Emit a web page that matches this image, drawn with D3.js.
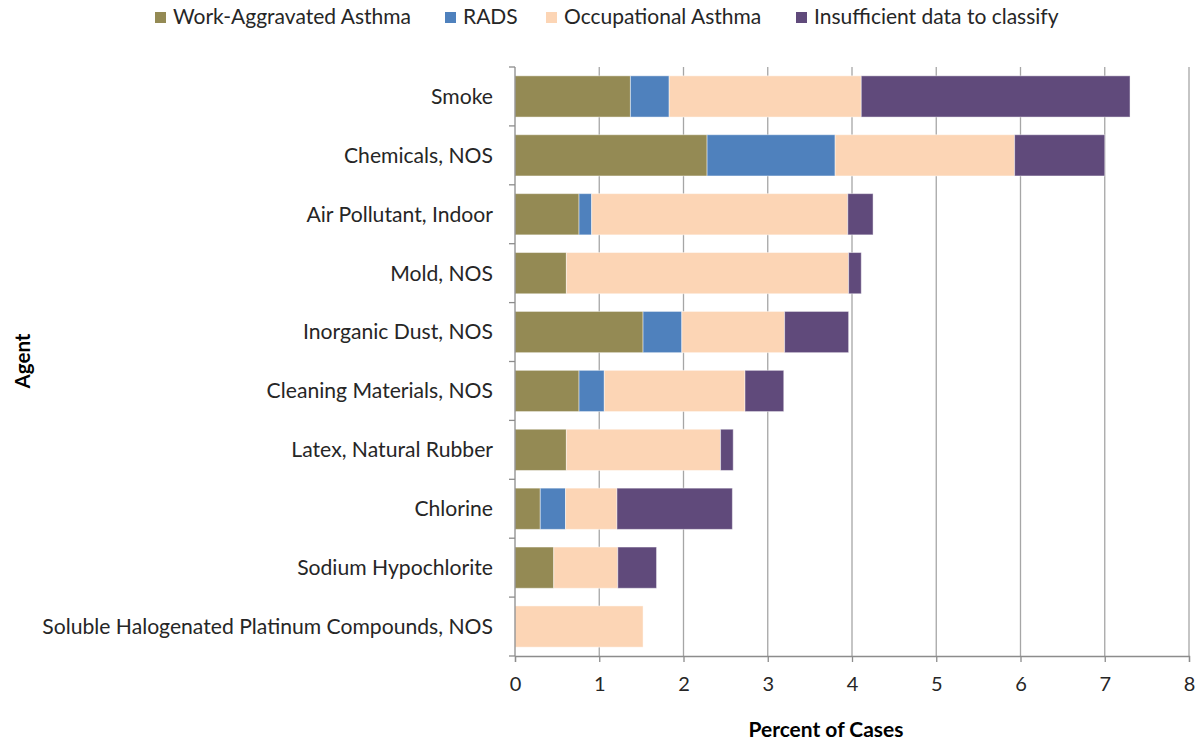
<!DOCTYPE html>
<html><head><meta charset="utf-8">
<script src="https://cdn.jsdelivr.net/npm/d3@7"></script>
<style>body{margin:0;background:#fff;} svg{display:block;}</style>
</head><body>
<svg id="chart" width="1195" height="741"></svg>
<script>
const categories = ["Smoke","Chemicals, NOS","Air Pollutant, Indoor","Mold, NOS","Inorganic Dust, NOS","Cleaning Materials, NOS","Latex, Natural Rubber","Chlorine","Sodium Hypochlorite","Soluble Halogenated Platinum Compounds, NOS"];
const seriesNames = ["Work-Aggravated Asthma","RADS","Occupational Asthma","Insufficient data to classify"];
const workAggravated = [1.37,2.28,0.76,0.61,1.52,0.76,0.61,0.30,0.46,0];
const rads =           [0.46,1.52,0.15,0,   0.46,0.30,0,   0.30,0,   0];
const occupational =   [2.28,2.13,3.04,3.35,1.22,1.67,1.83,0.61,0.76,1.52];
const insufficient =   [3.19,1.07,0.30,0.15,0.76,0.46,0.15,1.37,0.46,0];
const xTicks = [0,1,2,3,4,5,6,7,8];
const colors = ["#948A54","#4F81BD","#FCD5B5","#604A7B"];

const svg = d3.select("#chart");
const m = {left:515, right:1189, top:67, bottom:656};
const FONT = "Lato, 'Open Sans', sans-serif";

const x = d3.scaleLinear().domain([0,8]).range([m.left, m.right]);
const y = d3.scaleBand().domain(categories).range([m.top, m.bottom]).paddingInner(0.3).paddingOuter(0.15);

const rows = categories.map((c,i)=>({cat:c, v:[workAggravated[i],rads[i],occupational[i],insufficient[i]]}));
const stacked = d3.stack().keys([0,1,2,3]).value((d,k)=>d.v[k])(rows);

// gridlines
svg.append("g").selectAll("line").data(xTicks.slice(1)).join("line")
  .attr("x1",d=>x(d)).attr("x2",d=>x(d)).attr("y1",m.top).attr("y2",m.bottom)
  .attr("stroke","#A6A6A6").attr("stroke-width",1.3);

// bars
svg.append("g").selectAll("g").data(stacked).join("g")
  .attr("fill",(d,i)=>colors[i])
  .selectAll("rect").data(d=>d.filter(s=>s[1]-s[0]>0)).join("rect")
  .attr("x",d=>x(d[0])).attr("width",d=>x(d[1])-x(d[0]))
  .attr("y",d=>y(d.data.cat)).attr("height",y.bandwidth())
  .attr("stroke","#ffffff").attr("stroke-opacity",0.45).attr("stroke-width",1);

// x axis
const xAxis = svg.append("g").attr("transform",`translate(0,${m.bottom})`)
  .call(d3.axisBottom(x).tickValues(xTicks).tickFormat(d3.format("d")).tickSize(6).tickPadding(15));
xAxis.select(".domain").attr("stroke","#8C8C8C").attr("stroke-width",1.3);
xAxis.selectAll(".tick line").attr("stroke","#8C8C8C").attr("stroke-width",1.3);
xAxis.selectAll("text").attr("font-family",FONT).attr("font-size",20).attr("fill","#262626");

// y axis
const yAxisG = svg.append("g");
yAxisG.append("line").attr("x1",m.left).attr("x2",m.left).attr("y1",m.top).attr("y2",m.bottom)
  .attr("stroke","#8C8C8C").attr("stroke-width",1.3);
const bounds = d3.range(categories.length+1).map(i=>m.top + i*(m.bottom-m.top)/categories.length);
yAxisG.selectAll("line.tk").data(bounds).join("line").attr("class","tk")
  .attr("x1",m.left-6).attr("x2",m.left).attr("y1",d=>d).attr("y2",d=>d)
  .attr("stroke","#8C8C8C").attr("stroke-width",1.3);
const labels = yAxisG.selectAll("text").data(categories).join("text")
  .attr("x",493).attr("y",d=>y(d)+y.bandwidth()/2).attr("dy","0.35em")
  .attr("text-anchor","end").attr("font-family",FONT).attr("font-size",18).attr("fill","#262626")
  .text(d=>d);
const lw = labels.filter(d=>d===categories[9]).node().getComputedTextLength();
labels.attr("font-size", 18*451/lw);

// axis titles
const xt = svg.append("text").attr("x",826).attr("y",737).attr("text-anchor","middle")
  .attr("font-family",FONT).attr("font-weight","bold").attr("font-size",17).attr("fill","#000")
  .text("Percent of Cases");
xt.attr("font-size", 17*155/xt.node().getComputedTextLength());
const yt = svg.append("text").attr("transform","translate(30,361) rotate(-90)").attr("text-anchor","middle")
  .attr("font-family",FONT).attr("font-weight","bold").attr("font-size",17).attr("fill","#000")
  .text("Agent");
yt.attr("font-size", 17*55/yt.node().getComputedTextLength());

// legend
const legX = [155,445,546,796];
const leg = svg.append("g").selectAll("g").data(seriesNames).join("g")
  .attr("transform",(d,i)=>`translate(${legX[i]},17)`);
leg.append("rect").attr("x",0).attr("y",-5).attr("width",11).attr("height",11).attr("fill",(d,i)=>colors[i]);
const legT = leg.append("text").attr("x",18).attr("dy","0.35em").attr("font-family",FONT)
  .attr("font-size",18).attr("fill","#262626").text(d=>d);
const w0 = legT.filter((d,i)=>i===0).node().getComputedTextLength();
legT.attr("font-size",18*238/w0);
</script>
</body></html>
